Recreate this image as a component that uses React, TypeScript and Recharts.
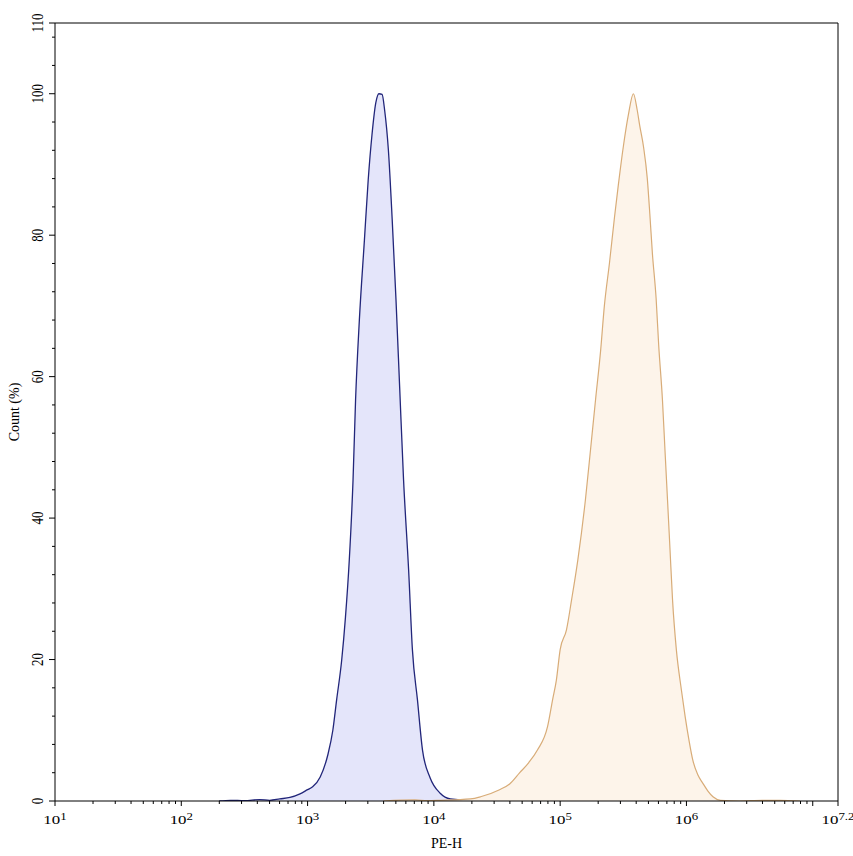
import React from 'react';
import {
  ComposedChart,
  Area,
  XAxis,
  YAxis,
  ReferenceLine,
  Label,
} from 'recharts';

// x values are log10(PE-H), y values are Count (%)
const blueLogPE = [
  2.3, 2.39, 2.5, 2.62, 2.7, 2.78, 2.86, 2.94, 3.0, 3.04, 3.1, 3.16, 3.2, 3.23, 3.27,
  3.3, 3.33, 3.36, 3.38, 3.41, 3.45, 3.48, 3.51, 3.54, 3.565, 3.59, 3.61, 3.64, 3.67, 3.7,
  3.73, 3.76, 3.8, 3.83, 3.87, 3.91, 3.97, 4.05, 4.13, 4.29, 4.44, 4.51, 4.56,
];
const blueCount = [
  0, 0.1, 0.05, 0.2, 0.1, 0.3, 0.5, 1.0, 1.6, 2.0, 3.4, 6.5, 10.0, 14.3, 19.9,
  26.0, 34.0, 45.4, 56.7, 68.0, 79.3, 87.8, 94.2, 98.7, 100, 99.9, 97.7, 92.0, 82.2, 70.9,
  58.1, 45.4, 32.7, 21.4, 14.3, 7.2, 3.3, 1.1, 0.3, 0.1, 0.2, 0.3, 0,
];

const orangeLogPE = [
  3.6, 3.85, 3.95, 4.05, 4.29, 4.37, 4.52, 4.6, 4.68, 4.75, 4.82, 4.9, 4.94, 4.97, 5.0,
  5.05, 5.09, 5.14, 5.2, 5.24, 5.28, 5.32, 5.35, 5.39, 5.43, 5.46, 5.5, 5.54, 5.58, 5.61,
  5.63, 5.66, 5.69, 5.71, 5.73, 5.76, 5.78, 5.81, 5.83, 5.85, 5.87, 5.89, 5.92, 5.96, 5.99,
  6.02, 6.05, 6.09, 6.13, 6.17, 6.21, 6.27, 6.42, 6.6, 6.74, 6.9,
];
const orangeCount = [
  0, 0.15, 0.05, 0.1, 0.3, 0.6, 1.6, 2.4, 4.0, 5.4, 7.2, 10.5, 14.3, 17.1, 21.4,
  24.2, 28.4, 34.1, 42.6, 49.6, 56.7, 63.6, 70.0, 76.0, 82.5, 87.0, 92.5, 97.0, 100, 97.7,
  95.5, 92.5, 88.0, 83.0, 77.5, 71.0, 64.5, 56.7, 49.6, 42.6, 35.5, 28.4, 21.4, 15.7, 11.9,
  8.6, 5.8, 3.7, 2.5, 1.4, 0.6, 0.1, 0, 0.1, 0.1, 0,
];

const majorXTicks = [1, 2, 3, 4, 5, 6, 7, 7.2];
const xTickExponents = ['1', '2', '3', '4', '5', '6', '', '7.2'];
const yLabelTicks = [0, 20, 40, 60, 80, 100, 110];

const FONT = '"Liberation Serif", "Times New Roman", serif';

// merge the two series into one table keyed by log10(PE-H)
const rows: Record<string, { pe: number; blue?: number; orange?: number }> = {};
blueLogPE.forEach((pe, i) => {
  rows[pe] = { ...(rows[pe] || { pe }), blue: blueCount[i] };
});
orangeLogPE.forEach((pe, i) => {
  rows[pe] = { ...(rows[pe] || { pe }), orange: orangeCount[i] };
});
const data = Object.values(rows).sort((a, b) => a.pe - b.pe);

// log minor ticks (2..9 in each decade) plus the labelled ones
const xTicks: number[] = [...majorXTicks];
for (let d = 1; d < 7.2; d++) {
  for (let k = 2; k <= 9; k++) {
    const t = d + Math.log10(k);
    if (t < 7.2) xTicks.push(t);
  }
}
xTicks.sort((a, b) => a - b);

const yTicks: number[] = [];
for (let v = 0; v < 110; v += 4) yTicks.push(v);
yTicks.push(110);

const XTick = (props: any) => {
  const { x, y, payload } = props;
  const idx = majorXTicks.indexOf(payload.value);
  const major = idx >= 0;
  const exp = major ? xTickExponents[idx] : '';
  return (
    <g>
      <line x1={x} y1={y} x2={x} y2={y + (major ? 5 : 3)} stroke="#000" />
      {exp && (
        <text
          transform={`translate(${x},${y + 23}) scale(1.35,1)`}
          textAnchor="middle"
          fontFamily={FONT}
          fontSize={12.5}
          fill="#000"
        >
          10
          <tspan dy={-4} fontSize={9.5}>
            {exp}
          </tspan>
        </text>
      )}
    </g>
  );
};

const YTick = (props: any) => {
  const { x, y, payload } = props;
  const major = yLabelTicks.includes(payload.value);
  return (
    <g>
      <line x1={x - (major ? 6 : 3)} y1={y} x2={x} y2={y} stroke="#000" />
      {major && (
        <text
          transform={`translate(${x - 12},${y}) scale(1.35,1) rotate(-90)`}
          textAnchor="middle"
          fontFamily={FONT}
          fontSize={13}
          fill="#000"
        >
          {payload.value}
        </text>
      )}
    </g>
  );
};

const XTitle = (props: any) => {
  const vb = props.viewBox || { x: 55, y: 801, width: 783, height: 40 };
  return (
    <text
      x={vb.x + vb.width / 2}
      y={vb.y + 47}
      textAnchor="middle"
      fontFamily={FONT}
      fontSize={14}
      fill="#000"
    >
      PE-H
    </text>
  );
};

const YTitle = (props: any) => {
  const vb = props.viewBox || { x: 10, y: 23, width: 45, height: 778 };
  const cy = vb.y + vb.height / 2;
  return (
    <text
      transform={`translate(19,${cy}) rotate(-90)`}
      textAnchor="middle"
      fontFamily={FONT}
      fontSize={14}
      fill="#000"
    >
      Count (%)
    </text>
  );
};

export default function App() {
  return (
    <div style={{ position: 'absolute', left: 0, top: 0, width: 853, height: 856, background: '#fff' }}>
      <ComposedChart
        width={853}
        height={856}
        data={data}
        margin={{ top: 23, right: 15, bottom: 15, left: 10 }}
      >
        <XAxis
          dataKey="pe"
          type="number"
          domain={[1, 7.2]}
          ticks={xTicks}
          interval={0}
          allowDataOverflow
          height={40}
          stroke="#000"
          tickLine={false}
          tickSize={0}
          tickMargin={0}
          tick={<XTick />}
        >
          <Label content={<XTitle />} />
        </XAxis>
        <YAxis
          type="number"
          domain={[0, 110]}
          ticks={yTicks}
          interval={0}
          allowDataOverflow
          width={45}
          stroke="#000"
          tickLine={false}
          tickSize={0}
          tickMargin={0}
          tick={<YTick />}
        >
          <Label content={<YTitle />} />
        </YAxis>
        <Area
          dataKey="blue"
          type="monotone"
          stroke="#22267a"
          strokeWidth={1.3}
          fill="#e4e5fa"
          fillOpacity={1}
          connectNulls
          dot={false}
          activeDot={false}
          isAnimationActive={false}
        />
        <Area
          dataKey="orange"
          type="monotone"
          stroke="#d8ac78"
          strokeWidth={1.2}
          fill="#fdf4ea"
          fillOpacity={1}
          connectNulls
          dot={false}
          activeDot={false}
          isAnimationActive={false}
        />
        <ReferenceLine y={110} stroke="#000" />
        <ReferenceLine x={7.2} stroke="#000" />
      </ComposedChart>
    </div>
  );
}
